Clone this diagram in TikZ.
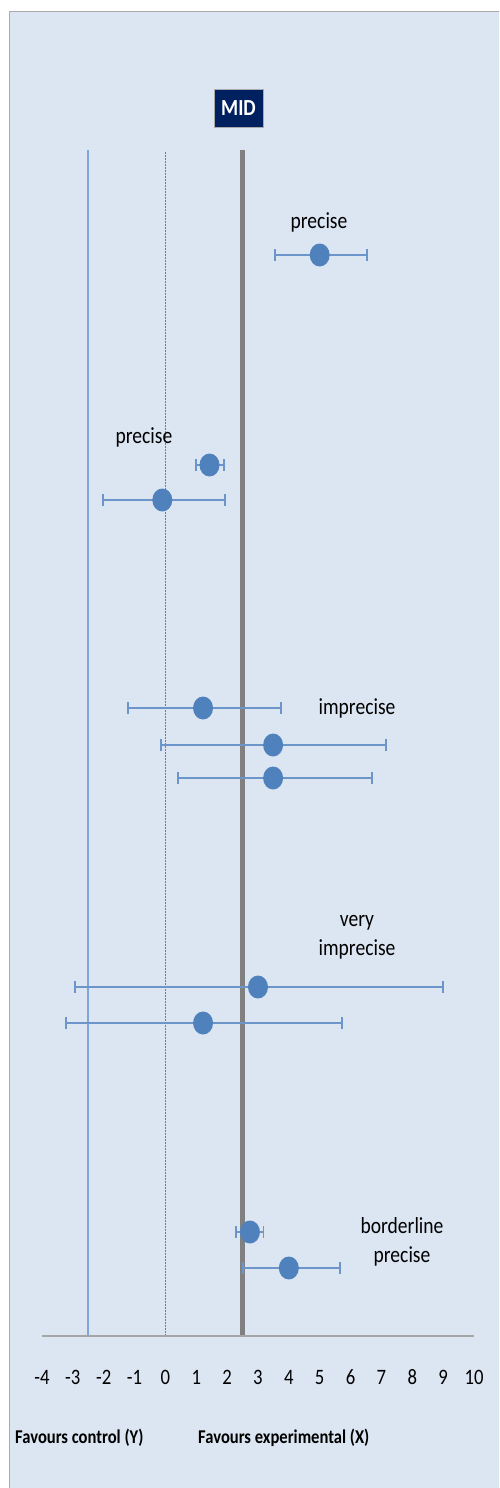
\documentclass[tikz,border=0pt]{standalone}
\usepackage{fontspec}
\usepackage{xcolor}
\usetikzlibrary{shapes, arrows.meta, calc}
\newfontfamily\calib[FakeStretch=0.85]{Carlito}
\definecolor{panelfill}{RGB}{220, 230, 242}
\definecolor{panelrule}{RGB}{170, 170, 170}
\definecolor{midnavy}{RGB}{0, 32, 96}
\definecolor{dotblue}{RGB}{79, 129, 189}
\definecolor{barblue}{RGB}{108, 149, 202}
\definecolor{lineblue}{RGB}{127, 166, 217}
\definecolor{midgrey}{RGB}{128, 128, 128}
\definecolor{axisgrey}{RGB}{166, 166, 166}

\begin{document}
\begin{tikzpicture}[x=1pt, y=-1pt]%{{{
        \useasboundingbox (0, 0) rectangle (499, 1488);
        \clip (0, 0) rectangle (499, 1488);

        \fill [panelfill, draw=panelrule, line width=1.5pt] (9.5, 11.5) rectangle (520, 1510);

        \tikzstyle{lbl} = [font=\calib\fontsize{23}{29}\selectfont, align=center, inner sep=0];
        \tikzstyle{fav} = [anchor=west, font=\calib\bfseries\fontsize{19.5}{20}\selectfont, inner sep=0];
        \tikzstyle{ci} = [draw=barblue, line width=1.6pt, {Bar[width=12pt]}-{Bar[width=12pt]}];
        \tikzstyle{est} = [ellipse, fill=dotblue, minimum width=20pt, minimum height=23pt, inner sep=0];

        \node [fill=midnavy, draw=panelrule, text=white, font=\calib\bfseries\fontsize{23}{23}\selectfont,
               minimum width=49pt, minimum height=38pt, inner sep=0] (mid) at (238.5, 108) {MID};

        \begin{scope}[xshift=165.4pt, x=30.86pt]
            \coordinate (C) at (-2.5, 150);
            \coordinate (Z) at (0, 152);
            \coordinate (M) at (2.5, 150);

            \coordinate (A1) at (-3.99, 1336);
            \coordinate (A2) at (10.01, 1336);

            \draw [lineblue, line width=2pt] (C) -- (C |- A1);
            \draw [dotblue, line width=1.2pt, dash pattern=on 1.5pt off 1.5pt] (Z) -- (Z |- A1);
            \draw [midgrey, line width=5pt] (M) -- (M |- A1);
            \draw [axisgrey, line width=2.5pt] (A1) -- (A2);

            \foreach \v in {-4, ..., 10}{
                \node [font=\calib\fontsize{22}{22}\selectfont] (t\v) at (\v, 1377) {\v};
            }

            \foreach \y/\m/\lo/\hi [count=\i] in {
                255/5.0/3.52/6.56, 465/1.43/0.96/1.93, 500/-0.1/-2.05/1.96,
                708/1.22/-1.24/3.78, 745/3.49/-0.17/7.18, 778/3.49/0.38/6.73,
                987/3.0/-2.96/9.03, 1023/1.22/-3.25/5.75,
                1232/2.74/2.26/3.2, 1268/4.0/2.48/5.69}{
                \coordinate (lo\i) at (\lo, \y);
                \coordinate (hi\i) at (\hi, \y);
                \draw [ci] (lo\i) -- (hi\i);
                \node [est] (e\i) at (\m, \y) { };
            }
        \end{scope}

        \node [lbl] (p1) at (319, 222) {precise};
        \node [lbl] (p2) at (144, 437) {precise};
        \node [lbl] (p3) at (357, 708) {imprecise};
        \node [lbl] (p4) at (357, 937.5) {very\\imprecise};
        \node [lbl] (p5) at (402, 1242) {borderline\\precise};

        \node [fav] (fy) at (15, 1438) {Favours control (Y)};
        \node [fav] (fx) at (198, 1438) {Favours experimental (X)};
    \end{tikzpicture}
\end{document}
